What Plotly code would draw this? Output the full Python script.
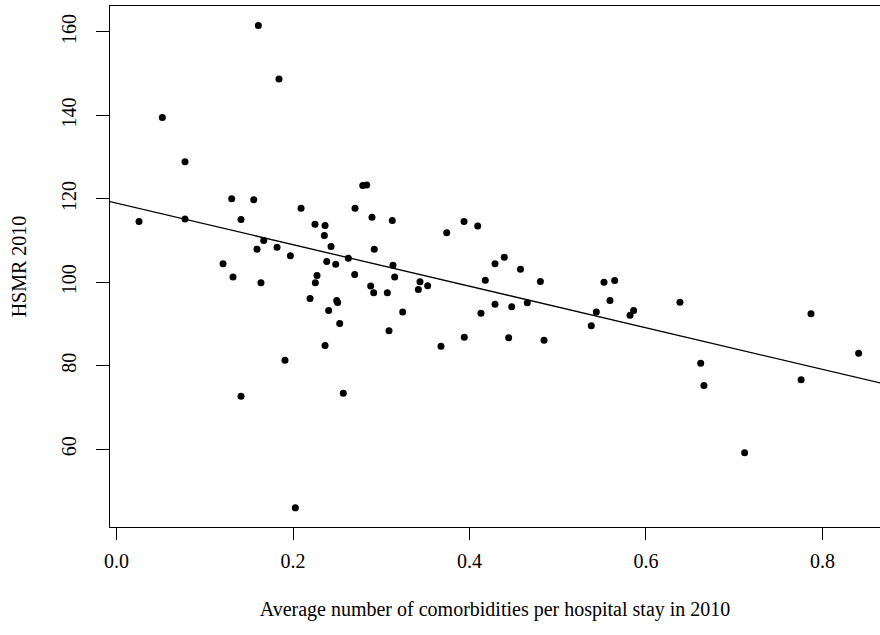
import plotly.graph_objects as go

# Average number of comorbidities per hospital stay in 2010
comorbidities = [
    0.0255, 0.0519, 0.0776, 0.0776, 0.1207, 0.1305, 0.1320, 0.1411, 0.1411, 0.1555,
    0.1592, 0.1607, 0.1637, 0.1668, 0.1819, 0.1841, 0.1909, 0.1970, 0.2026, 0.2091,
    0.2193, 0.2249, 0.2253, 0.2272, 0.2355, 0.2363, 0.2363, 0.2382, 0.2404, 0.2431,
    0.2484, 0.2495, 0.2506, 0.2529, 0.2570, 0.2627, 0.2699, 0.2703, 0.2790, 0.2835,
    0.2880, 0.2895, 0.2914, 0.2921, 0.3069, 0.3088, 0.3125, 0.3133, 0.3152, 0.3243,
    0.3420, 0.3439, 0.3526, 0.3677, 0.3742, 0.3938, 0.3941, 0.4093, 0.4130, 0.4179,
    0.4289, 0.4289, 0.4394, 0.4444, 0.4478, 0.4578, 0.4655, 0.4803, 0.4845, 0.5380,
    0.5437, 0.5524, 0.5592, 0.5645, 0.5819, 0.5860, 0.6385, 0.6620, 0.6657, 0.7118,
    0.7758, 0.7870, 0.8410,
]

# HSMR 2010
hsmr = [
    114.56, 139.47, 128.90, 115.20, 104.43, 120.00, 101.30, 115.05, 72.74, 119.76,
    107.95, 161.50, 99.88, 110.00, 108.40, 148.74, 81.35, 106.40, 45.99, 117.77,
    96.13, 113.94, 99.88, 101.63, 111.20, 113.60, 84.86, 104.98, 93.25, 108.60,
    104.36, 95.65, 95.17, 90.13, 73.46, 105.80, 101.87, 117.77, 123.20, 123.35,
    99.10, 115.60, 97.50, 107.95, 97.50, 88.40, 114.80, 104.12, 101.30, 92.93,
    98.28, 100.12, 99.16, 84.70, 111.86, 114.56, 86.87, 113.53, 92.62, 100.53,
    104.43, 94.78, 106.04, 86.71, 94.13, 103.15, 95.09, 100.20, 86.15, 89.58,
    92.93, 100.04, 95.65, 100.44, 92.14, 93.25, 95.26, 80.65, 75.28, 59.16,
    76.65, 92.46, 83.04,
]

# Fitted regression line
fit_intercept = 118.98
fit_slope = -49.76

x_tickvals = [0.0, 0.2, 0.4, 0.6, 0.8]
x_ticktext = ["0.0", "0.2", "0.4", "0.6", "0.8"]
y_tickvals = [60, 80, 100, 120, 140, 160]
y_ticktext = ["60", "80", "100", "120", "140", "160"]

x_range = [-0.0074, 0.8652]
y_range = [41.4, 166.2]

FONT = "Liberation Serif"

fig = go.Figure()
line_x = [x_range[0] - 0.05, x_range[1] + 0.05]
fig.add_trace(go.Scatter(
    x=line_x,
    y=[fit_intercept + fit_slope * v for v in line_x],
    mode="lines",
    line=dict(color="black", width=1.3),
    showlegend=False,
    hoverinfo="skip",
))
fig.add_trace(go.Scatter(
    x=comorbidities,
    y=hsmr,
    mode="markers",
    marker=dict(color="black", size=7, line=dict(width=0)),
    showlegend=False,
))

fig.update_layout(
    width=880,
    height=635,
    margin=dict(l=110, r=0, t=6, b=108),
    paper_bgcolor="white",
    plot_bgcolor="white",
    font=dict(family=FONT, size=20, color="black"),
    xaxis=dict(
        range=x_range,
        tickvals=x_tickvals,
        ticktext=x_ticktext,
        ticks="outside",
        ticklen=12,
        tickwidth=1.3,
        tickcolor="black",
        showline=True,
        linecolor="black",
        linewidth=1.3,
        mirror=True,
        showgrid=False,
        zeroline=False,
        ticklabelstandoff=4,
        title=dict(
            text="Average number of comorbidities per hospital stay in 2010",
            font=dict(family=FONT, size=20, color="black"),
            standoff=30,
        ),
    ),
    yaxis=dict(
        range=y_range,
        tickvals=y_tickvals,
        ticktext=y_ticktext,
        tickangle=-90,
        ticks="outside",
        ticklen=13,
        tickwidth=1.3,
        tickcolor="black",
        showline=True,
        linecolor="black",
        linewidth=1.3,
        mirror=False,
        showgrid=False,
        zeroline=False,
        ticklabelstandoff=12,
        title=dict(
            text="HSMR 2010",
            font=dict(family=FONT, size=20, color="black"),
            standoff=25,
        ),
    ),
)

fig.write_html("out.html")
